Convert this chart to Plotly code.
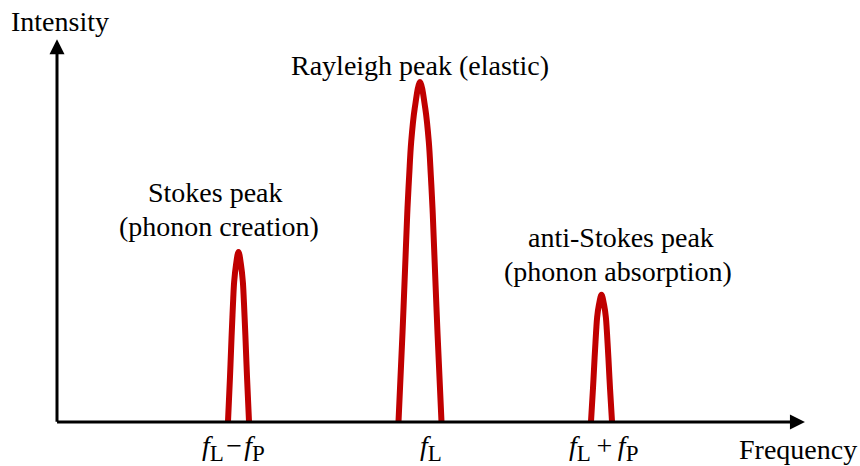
import plotly.graph_objects as go

# ---------------- data ----------------
# Peak centres (frequency units: f_L - f_P = 1, f_L = 2, f_L + f_P = 3)
tick_vals = [1.0, 2.0, 3.0]
tick_text = ["<i>f</i><sub><span style='font-size:23px'>L</span></sub>\u200a\u2212\u200a<i>f</i><sub><span style='font-size:23px'>P</span></sub>",
             "<i>f</i><sub><span style='font-size:23px'>L</span></sub>",
             "<i>f</i><sub><span style='font-size:23px'>L</span></sub>\u2009+\u2009<i>f</i><sub><span style='font-size:23px'>P</span></sub>"]

stokes_x = [0.942, 0.953, 0.962, 0.967, 0.971, 0.976, 0.986, 1.000, 1.014, 1.024, 1.029, 1.033, 1.038, 1.047, 1.058]
stokes_y = [0.000, 0.131, 0.253, 0.315, 0.363, 0.412, 0.461, 0.500, 0.461, 0.412, 0.363, 0.315, 0.253, 0.131, 0.000]

rayleigh_x = [1.8815, 1.9036, 1.9218, 1.9311, 1.9405, 1.9515, 1.9708, 2.0000, 2.0292, 2.0485, 2.0595, 2.0689, 2.0782, 2.0964, 2.1185]
rayleigh_y = [0.000, 0.262, 0.506, 0.629, 0.726, 0.824, 0.922, 1.000, 0.922, 0.824, 0.726, 0.629, 0.506, 0.262, 0.000]

anti_x = [2.942, 2.953, 2.962, 2.967, 2.971, 2.976, 2.986, 3.000, 3.014, 3.024, 3.029, 3.033, 3.038, 3.047, 3.058]
anti_y = [0.000, 0.098, 0.189, 0.236, 0.272, 0.308, 0.345, 0.374, 0.345, 0.308, 0.272, 0.236, 0.189, 0.098, 0.000]

x_axis_end = 4.121
y_axis_end = 1.126

# ---------------- layout helpers (pixel -> data) ----------------
W, H = 860, 466
X0_PX, Y0_PX = 57.0, 422.0
XU, YU = 181.5, 340.0


def px2x(px):
    return (px - X0_PX) / XU


def py2y(py):
    return (Y0_PX - py) / YU


RED = "#C00000"
FONT = "Liberation Serif"

fig = go.Figure()
for xs, ys in [(stokes_x, stokes_y), (rayleigh_x, rayleigh_y), (anti_x, anti_y)]:
    fig.add_trace(go.Scatter(x=xs, y=ys, mode="lines",
                             line=dict(color=RED, width=6, shape="spline", smoothing=1.0),
                             hoverinfo="skip", showlegend=False))

annotations = []
# axes arrows
annotations.append(dict(x=x_axis_end, y=0, ax=-0.008, ay=0, xref="x", yref="y", axref="x", ayref="y",
                        showarrow=True, arrowhead=2, arrowsize=1, arrowwidth=3, arrowcolor="black",
                        standoff=0, startstandoff=0, text=""))
annotations.append(dict(x=0, y=y_axis_end, ax=0, ay=-0.004, xref="x", yref="y", axref="x", ayref="y",
                        showarrow=True, arrowhead=2, arrowsize=1, arrowwidth=3, arrowcolor="black",
                        standoff=0, startstandoff=0, text=""))

# tick labels
tick_shift = [-5, 11, 2]
for v, t, s in zip(tick_vals, tick_text, tick_shift):
    annotations.append(dict(x=v, y=py2y(448), xref="x", yref="y", text=t, showarrow=False,
                            xanchor="center", yanchor="middle", xshift=s,
                            font=dict(family=FONT, size=28, color="black")))

labels = [
    ("Intensity", 60, 21),
    ("Frequency", 798, 449),
    ("Rayleigh peak (elastic)", 420, 65),
    ("Stokes peak", 215, 192),
    ("(phonon creation)", 219, 226),
    ("anti-Stokes peak", 621, 237),
    ("(phonon absorption)", 618, 271),
]
for txt, cx, cy in labels:
    annotations.append(dict(x=px2x(cx), y=py2y(cy), xref="x", yref="y", text=txt, showarrow=False,
                            xanchor="center", yanchor="middle",
                            font=dict(family=FONT, size=28, color="black")))

fig.update_layout(
    width=W, height=H,
    margin=dict(l=0, r=0, t=0, b=0),
    font=dict(family=FONT),
    paper_bgcolor="white", plot_bgcolor="white",
    xaxis=dict(range=[px2x(0), px2x(W)], visible=False, fixedrange=True),
    yaxis=dict(range=[py2y(H), py2y(0)], visible=False, fixedrange=True),
    annotations=annotations,
    showlegend=False,
)

fig.write_html("out.html")
